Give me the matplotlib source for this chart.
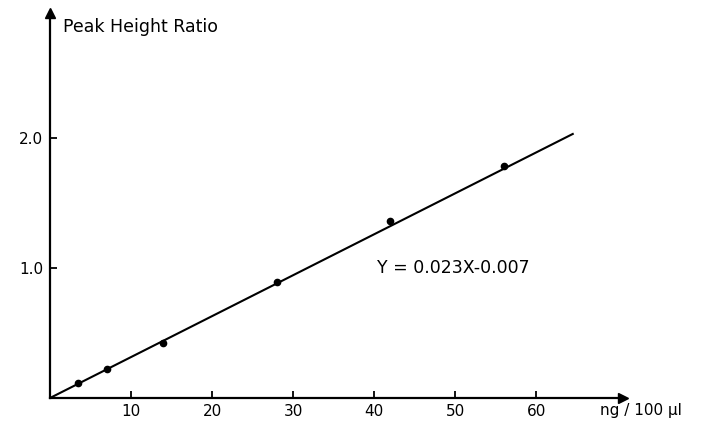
import matplotlib
matplotlib.use("Agg")
import matplotlib.pyplot as plt

# Data
conc = [3.5, 7, 14, 28, 42, 56]          # ng / 100 µl
ratio = [0.115, 0.22, 0.42, 0.89, 1.36, 1.78]
fit_x = [0, 64.5]
fit_y = [0, 2.03]
xticks = [10, 20, 30, 40, 50, 60]
xticklabels = ["10", "20", "30", "40", "50", "60"]
yticks = [1.0, 2.0]
yticklabels = ["1.0", "2.0"]

W, H = 705, 422
fig = plt.figure(figsize=(W / 100, H / 100), dpi=100)
left, right, bottom, top = 50, 623, 398, 13
ax = fig.add_axes([left / W, (H - bottom) / H, (right - left) / W, (bottom - top) / H])
ax.set_xlim(0, 70.7)
ax.set_ylim(0, 2.96)

ax.plot(fit_x, fit_y, color="black", lw=1.5)
ax.plot(conc, ratio, "o", color="black", ms=4.5)

for s in ["top", "right"]:
    ax.spines[s].set_visible(False)
for s in ["left", "bottom"]:
    ax.spines[s].set_linewidth(1.6)

ax.plot(1, 0, ">", color="black", ms=7, transform=ax.transAxes, clip_on=False)
ax.plot(0, 1, "^", color="black", ms=7, transform=ax.transAxes, clip_on=False)

ax.set_xticks(xticks)
ax.set_xticklabels(xticklabels)
ax.set_yticks(yticks)
ax.set_yticklabels(yticklabels)
ax.tick_params(direction="in", length=5, width=1.3, labelsize=11, pad=5)
ax.tick_params(axis="x", pad=4)

ax.text(63 / W, (H - 27) / H, "Peak Height Ratio", transform=fig.transFigure,
        fontsize=12.5, va="center", ha="left")
ax.text(600 / W, (H - 411) / H, "ng / 100 µl", transform=fig.transFigure,
        fontsize=11, va="center", ha="left")
ax.text(40.3, 1.0, "Y = 0.023X-0.007", fontsize=12.5, va="center", ha="left")

fig.savefig("out.png", dpi=100)
